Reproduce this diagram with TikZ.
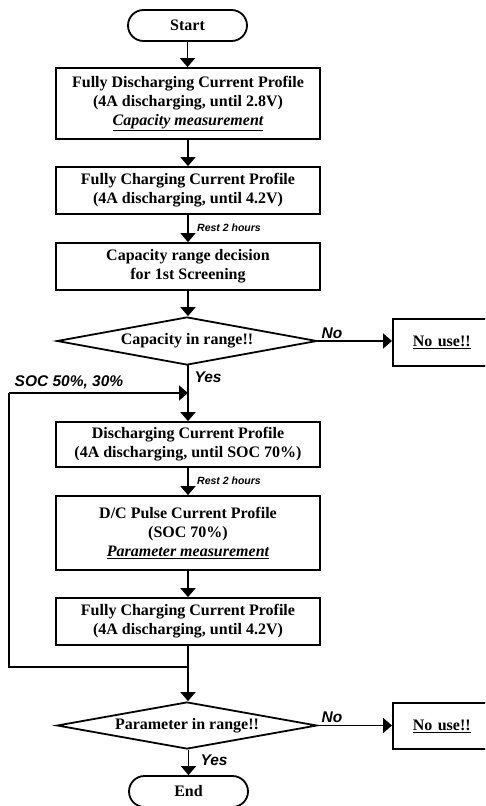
\documentclass[tikz,border=0pt]{standalone}
\usepackage{fontspec}
\setmainfont{Liberation Serif}
\newfontfamily\labfont{Liberation Sans}
\usetikzlibrary{shapes.geometric,arrows.meta}
\begin{document}
\begin{tikzpicture}[x=1pt,y=-1pt,
  every node/.style={font=\fontsize{16}{19}\selectfont\bfseries},
  proc/.style={draw, line width=1.8pt, minimum width=264, align=center, inner sep=0},
  term/.style={draw, line width=1.8pt, rounded corners=15.5pt, minimum width=119, minimum height=31, inner sep=0},
  dec/.style={draw, diamond, line width=1.8pt, minimum width=260, minimum height=48, inner sep=0, aspect=5},
  nouse/.style={draw, line width=1.8pt, anchor=west, text width=80, inner xsep=20, inner ysep=0, align=left, minimum height=47},
  arr/.style={line width=1.8pt, -{Triangle[width=15pt,length=9pt]}},
  ln/.style={line width=1.8pt},
  lab/.style={font=\labfont\bfseries\itshape\fontsize{15.5}{17}\selectfont, inner sep=0},
  small/.style={font=\labfont\bfseries\itshape\fontsize{10.5}{12}\selectfont, inner sep=0},
]
\useasboundingbox (0,0) rectangle (485,806);
\clip (0,0) rectangle (485,806);

\node[term] (start) at (187.5,25.5) {Start};
\node[proc, minimum height=71] (b1) at (188,103.5) {Fully Discharging Current Profile\\(4A discharging, until 2.8V)\\\textit{\underline{Capacity measurement}}};
\node[proc, minimum height=47] (b2) at (188,190.5) {Fully Charging Current Profile\\(4A discharging, until 4.2V)};
\node[proc, minimum height=47] (b3) at (188,266.5) {Capacity range decision\\for 1st Screening};
\node[dec] (d1) at (187,341) {Capacity in range!!};
\node[nouse] (n1) at (392,342.5) {\underline{No use!!}};
\node[proc, minimum height=45] (b4) at (188,444.5) {Discharging Current Profile\\(4A discharging, until SOC 70\%)};
\node[proc, minimum height=74] (b5) at (188,533) {D/C Pulse Current Profile\\(SOC 70\%)\\\textit{\underline{Parameter measurement}}};
\node[proc, minimum height=47] (b6) at (188,621.5) {Fully Charging Current Profile\\(4A discharging, until 4.2V)};
\node[dec, minimum height=47] (d2) at (187,725.5) {Parameter in range!!};
\node[nouse, minimum height=46] (n2) at (392,726) {\underline{No use!!}};
\node[term] (end) at (188.5,791.5) {End};

\coordinate (j1) at (188,393);
\coordinate (j2) at (188,667);
\coordinate (c1) at (9,393);
\coordinate (c2) at (9,667);

\draw[arr] (start.south) -- (start.south |- b1.north);
\draw[arr] (b1.south) -- (b2.north);
\draw[arr] (b2.south) -- (b3.north);
\draw[arr] (b3.south) -- (b3.south |- d1.north);
\draw[arr] (d1.east) -- (n1.west |- d1.east);
\draw[arr] (d1.south) -- (d1.south -| b4.north) -- (b4.north);
\draw[arr] (b4.south) -- (b5.north);
\draw[arr] (b5.south) -- (b6.north);
\draw[arr] (b6.south) -- (b6.south |- d2.north);
\draw[arr] (d2.east) -- (n2.west |- d2.east);
\draw[arr] (d2.south -| end.north) -- (end.north);
\draw[ln] (j2) -- (c2) -- (c1);
\draw[arr] (c1) -- (j1);

\node[small, anchor=west] (r1) at (197,228) {Rest 2 hours};
\node[small, anchor=west] (r2) at (197,481) {Rest 2 hours};
\node[lab] (no1) at (332,333) {No};
\node[lab] (no2) at (332,717) {No};
\node[lab] (y1) at (208,377) {Yes};
\node[lab] (y2) at (214,760) {Yes};
\node[lab] (soc) at (69,382) {SOC 50\%, 30\%};
\end{tikzpicture}
\end{document}
